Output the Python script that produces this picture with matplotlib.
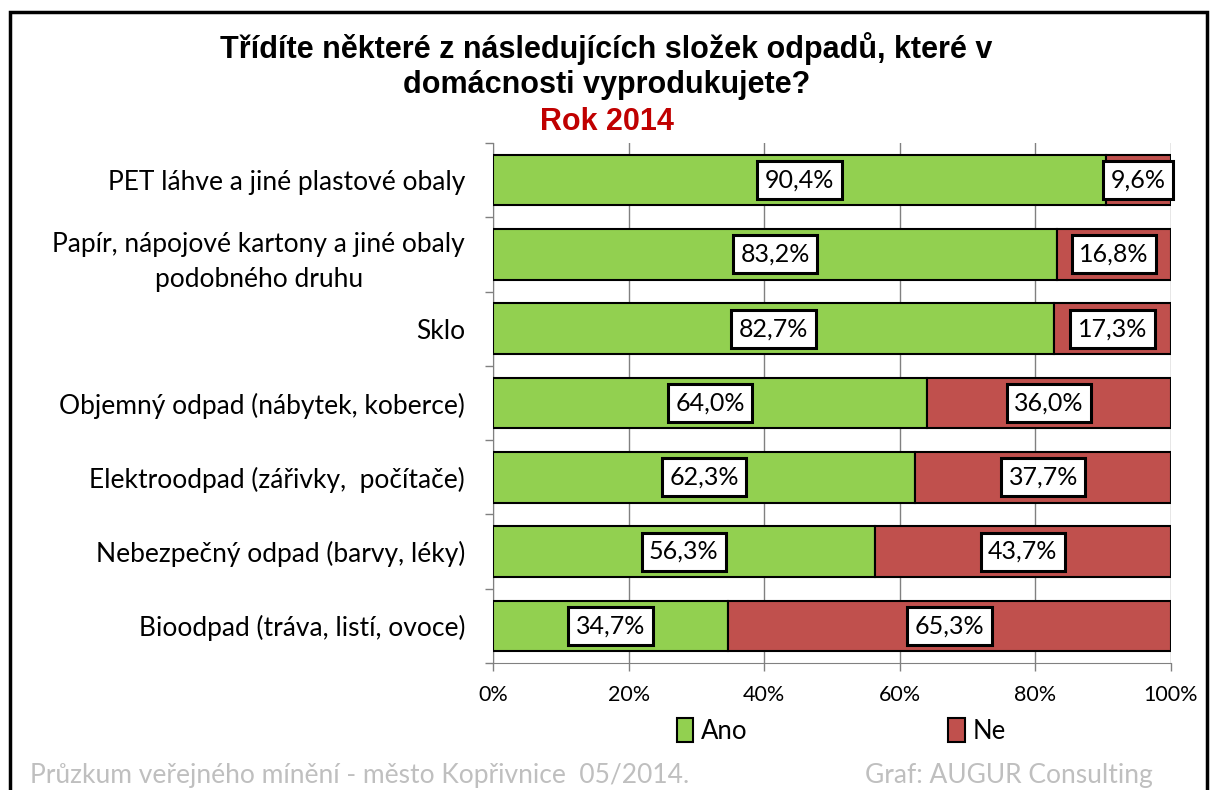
import matplotlib.pyplot as plt
from matplotlib.patches import Rectangle
from matplotlib.ticker import FixedLocator

categories = [
    "PET láhve a jiné plastové obaly",
    "Papír, nápojové kartony a jiné obaly\npodobného druhu",
    "Sklo",
    "Objemný odpad (nábytek, koberce)",
    "Elektroodpad (zářivky,  počítače)",
    "Nebezpečný odpad (barvy, léky)",
    "Bioodpad (tráva, listí, ovoce)",
]
ano = [90.4, 83.2, 82.7, 64.0, 62.3, 56.3, 34.7]
ne = [9.6, 16.8, 17.3, 36.0, 37.7, 43.7, 65.3]
xticks = [0, 20, 40, 60, 80, 100]

green = "#92D050"
red = "#C0504D"
font = "Lato"

fig = plt.figure(figsize=(12.13, 7.9), dpi=100)
ax = fig.add_axes([493 / 1213, 1 - 663 / 790, 678 / 1213, 520 / 790])

y = list(range(len(categories)))
ax.barh(y, ano, height=0.68, color=green, edgecolor="black", linewidth=1.5, label="Ano", zorder=3)
ax.barh(y, ne, left=ano, height=0.68, color=red, edgecolor="black", linewidth=1.5, label="Ne", zorder=3)

def fmt(v):
    return f"{v:.1f}%".replace(".", ",")

box = dict(boxstyle="square,pad=0.3", fc="white", ec="black", lw=2.2)
for i in y:
    ax.text(ano[i] / 2, i, fmt(ano[i]), ha="center", va="center", fontsize=18,
            family=font, bbox=box, zorder=5)
    ax.text(ano[i] + ne[i] / 2, i, fmt(ne[i]), ha="center", va="center", fontsize=18,
            family=font, bbox=box, zorder=5)

ax.set_xlim(0, 100)
ax.set_ylim(len(categories) - 0.5, -0.5)
ax.set_xticks(xticks)
ax.set_xticklabels([f"{t}%" for t in xticks], family=font, fontsize=15.5)
ax.set_yticks(y)
ax.set_yticklabels(categories, family=font, fontsize=19, multialignment="center",
                   linespacing=1.5)
ax.yaxis.set_minor_locator(FixedLocator([k - 0.5 for k in range(len(categories) + 1)]))
ax.tick_params(axis="y", which="major", length=0, pad=20)
ax.tick_params(axis="y", which="minor", length=6, color="#808080", width=1)
ax.tick_params(axis="x", length=6, color="#808080", width=1, pad=10)
ax.grid(axis="x", color="#808080", linewidth=1, zorder=0)
for s in ["top", "right"]:
    ax.spines[s].set_visible(False)
for s in ["left", "bottom"]:
    ax.spines[s].set_color("#808080")

fig.text(0.5, 1 - 66 / 790, "Třídíte některé z následujících složek odpadů, které v\ndomácnosti vyprodukujete?",
         ha="center", va="center", fontsize=22, fontweight="bold", family="Liberation Sans", linespacing=1.25)
fig.text(0.5, 1 - 122 / 790, "Rok 2014", ha="center", va="center", fontsize=22,
         fontweight="bold", color="#C00000", family="Liberation Sans")

leg = fig.legend(loc="center", bbox_to_anchor=(841 / 1213, 1 - 731 / 790), ncol=2, frameon=False,
                 prop={"family": font, "size": 18.5}, handlelength=0.65, handleheight=1.05,
                 handletextpad=0.3, columnspacing=7.8)

fig.text(30 / 1213, 1 - 775 / 790, "Průzkum veřejného mínění - město Kopřivnice  05/2014.",
         ha="left", va="center", fontsize=19, color="#BFBFBF", family=font)
fig.text(865 / 1213, 1 - 775 / 790, "Graf: AUGUR Consulting",
         ha="left", va="center", fontsize=19, color="#BFBFBF", family=font)

fig.patches.append(Rectangle((10 / 1213, -0.1), 1197 / 1213, 1.1 - 12 / 790, transform=fig.transFigure,
                             fill=False, ec="black", lw=2.5))

fig.savefig("out.png", dpi=100)
